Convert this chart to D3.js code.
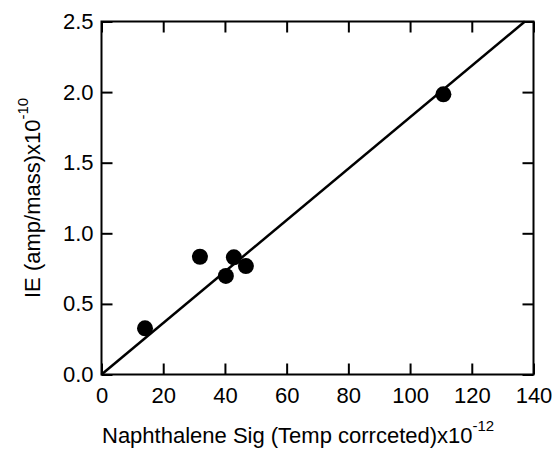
<!DOCTYPE html>
<html><head><meta charset="utf-8">
<script src="https://cdn.jsdelivr.net/npm/d3@7"></script>
<style>body{margin:0;background:#fff}svg{display:block}text{font-family:"Liberation Sans",Arial,sans-serif;fill:#000}</style>
</head><body>
<script>
const xValues = [14.1, 31.9, 42.9, 40.3, 46.8, 110.8];
const yValues = [0.327, 0.834, 0.83, 0.698, 0.768, 1.984];
const fitLine = [[0, 0], [137.2, 2.5]];
const xTicks = [0, 20, 40, 60, 80, 100, 120, 140];
const yTicks = [0.0, 0.5, 1.0, 1.5, 2.0, 2.5];

const W = 556, H = 450;
const L = 101.5, R = 533.5, T = 21.5, B = 374.5;
const svg = d3.select("body").append("svg").attr("width", W).attr("height", H);
const x = d3.scaleLinear().domain([0, 140]).range([L, R]);
const y = d3.scaleLinear().domain([0, 2.5]).range([B, T]);
const tl = 11;
const fs = "22px";

function styleAxis(g){
  g.attr("font-size", null).attr("font-family", null);
  g.select(".domain").remove();
  g.selectAll(".tick line").attr("stroke", "#000").attr("stroke-width", 2);
  g.selectAll(".tick text").style("font-size", fs);
}
svg.append("g").attr("transform", `translate(0,${B})`)
  .call(d3.axisBottom(x).tickValues(xTicks).tickSize(-tl).tickPadding(13).tickFormat(d3.format("d")))
  .call(styleAxis);
svg.append("g").attr("transform", `translate(0,${T})`)
  .call(d3.axisTop(x).tickValues(xTicks).tickSize(-tl).tickFormat(""))
  .call(styleAxis);
svg.append("g").attr("transform", `translate(${L},0)`)
  .call(d3.axisLeft(y).tickValues(yTicks).tickSize(-tl).tickPadding(8).tickFormat(d3.format(".1f")))
  .call(styleAxis);
svg.append("g").attr("transform", `translate(${R},0)`)
  .call(d3.axisRight(y).tickValues(yTicks).tickSize(-tl).tickFormat(""))
  .call(styleAxis);

svg.append("rect").attr("x", L).attr("y", T).attr("width", R - L).attr("height", B - T)
  .attr("fill", "none").attr("stroke", "#000").attr("stroke-width", 2);

svg.append("line")
  .attr("x1", x(fitLine[0][0])).attr("y1", y(fitLine[0][1]))
  .attr("x2", x(fitLine[1][0])).attr("y2", y(fitLine[1][1]))
  .attr("stroke", "#000").attr("stroke-width", 2.5);

svg.selectAll("circle.pt").data(xValues).enter().append("circle")
  .attr("class", "pt")
  .attr("cx", d => x(d)).attr("cy", (d, i) => y(yValues[i])).attr("r", 8).attr("fill", "#000");

const xt = svg.append("text").attr("x", 102).attr("y", 443).style("font-size", fs);
xt.append("tspan").text("Naphthalene Sig (Temp corrceted)x10");
xt.append("tspan").attr("dy", -12).style("font-size", "15px").text("-12");

const yt = svg.append("text").attr("transform", `translate(39.5,298) rotate(-90)`).style("font-size", fs);
yt.append("tspan").text("IE (amp/mass)x10");
yt.append("tspan").attr("dy", -12).style("font-size", "15px").text("-10");
</script>
</body></html>
